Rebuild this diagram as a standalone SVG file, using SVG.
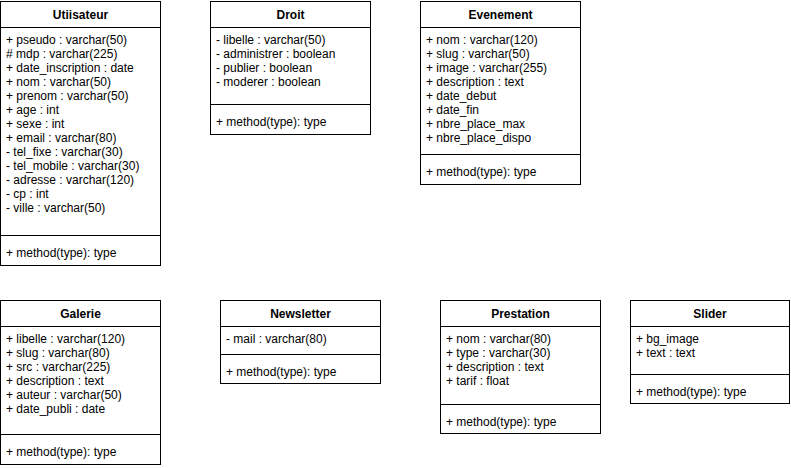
<svg xmlns="http://www.w3.org/2000/svg" width="791" height="468" viewBox="0 0 791 468">
<style>
.box{fill:#fff;stroke:#000;stroke-width:1}
.ln{stroke:#000;stroke-width:1}
text{font-family:"Liberation Sans",Arial,sans-serif;font-size:12px;fill:#000}
.t{font-weight:bold;text-anchor:middle}
</style>
<rect width="791" height="468" fill="#fff"/>
<g id="connectors"></g>
<g id="utiisateur">
<rect class="box" x="0.5" y="1.5" width="160" height="264"/>
<line class="ln" x1="0.5" y1="27.5" x2="160.5" y2="27.5"/>
<line class="ln" x1="0.5" y1="235.5" x2="160.5" y2="235.5"/>
<text class="t" x="80.5" y="18.5">Utiisateur</text>
<text x="6" y="44">+ pseudo : varchar(50)</text>
<text x="6" y="58"># mdp : varchar(225)</text>
<text x="6" y="72">+ date_inscription : date</text>
<text x="6" y="86">+ nom : varchar(50)</text>
<text x="6" y="100">+ prenom : varchar(50)</text>
<text x="6" y="114">+ age : int</text>
<text x="6" y="128">+ sexe : int</text>
<text x="6" y="142">+ email : varchar(80)</text>
<text x="6" y="156">- tel_fixe : varchar(30)</text>
<text x="6" y="170">- tel_mobile : varchar(30)</text>
<text x="6" y="184">- adresse : varchar(120)</text>
<text x="6" y="198">- cp : int</text>
<text x="6" y="212">- ville : varchar(50)</text>
<text x="6" y="257">+ method(type): type</text>
</g>
<g id="droit">
<rect class="box" x="210.5" y="1.5" width="160" height="133"/>
<line class="ln" x1="210.5" y1="27.5" x2="370.5" y2="27.5"/>
<line class="ln" x1="210.5" y1="104.5" x2="370.5" y2="104.5"/>
<text class="t" x="290.5" y="18.5">Droit</text>
<text x="216" y="44">- libelle : varchar(50)</text>
<text x="216" y="58">- administrer : boolean</text>
<text x="216" y="72">- publier : boolean</text>
<text x="216" y="86">- moderer : boolean</text>
<text x="216" y="126">+ method(type): type</text>
</g>
<g id="evenement">
<rect class="box" x="420.5" y="1.5" width="160" height="183"/>
<line class="ln" x1="420.5" y1="27.5" x2="580.5" y2="27.5"/>
<line class="ln" x1="420.5" y1="154.5" x2="580.5" y2="154.5"/>
<text class="t" x="500.5" y="18.5">Evenement</text>
<text x="426" y="44">+ nom : varchar(120)</text>
<text x="426" y="58">+ slug : varchar(50)</text>
<text x="426" y="72">+ image : varchar(255)</text>
<text x="426" y="86">+ description : text</text>
<text x="426" y="100">+ date_debut</text>
<text x="426" y="114">+ date_fin</text>
<text x="426" y="128">+ nbre_place_max</text>
<text x="426" y="142">+ nbre_place_dispo</text>
<text x="426" y="176">+ method(type): type</text>
</g>
<g id="galerie">
<rect class="box" x="0.5" y="300.5" width="160" height="164"/>
<line class="ln" x1="0.5" y1="326.5" x2="160.5" y2="326.5"/>
<line class="ln" x1="0.5" y1="434.5" x2="160.5" y2="434.5"/>
<text class="t" x="80.5" y="317.5">Galerie</text>
<text x="6" y="343">+ libelle : varchar(120)</text>
<text x="6" y="357">+ slug : varchar(80)</text>
<text x="6" y="371">+ src : varchar(225)</text>
<text x="6" y="385">+ description : text</text>
<text x="6" y="399">+ auteur : varchar(50)</text>
<text x="6" y="413">+ date_publi : date</text>
<text x="6" y="456">+ method(type): type</text>
</g>
<g id="newsletter">
<rect class="box" x="220.5" y="300.5" width="160" height="83"/>
<line class="ln" x1="220.5" y1="326.5" x2="380.5" y2="326.5"/>
<line class="ln" x1="220.5" y1="354.5" x2="380.5" y2="354.5"/>
<text class="t" x="300.5" y="317.5">Newsletter</text>
<text x="226" y="343">- mail : varchar(80)</text>
<text x="226" y="376">+ method(type): type</text>
</g>
<g id="prestation">
<rect class="box" x="440.5" y="300.5" width="160" height="133"/>
<line class="ln" x1="440.5" y1="326.5" x2="600.5" y2="326.5"/>
<line class="ln" x1="440.5" y1="404.5" x2="600.5" y2="404.5"/>
<text class="t" x="520.5" y="317.5">Prestation</text>
<text x="446" y="343">+ nom : varchar(80)</text>
<text x="446" y="357">+ type : varchar(30)</text>
<text x="446" y="371">+ description : text</text>
<text x="446" y="385">+ tarif : float</text>
<text x="446" y="426">+ method(type): type</text>
</g>
<g id="slider">
<rect class="box" x="630.5" y="300.5" width="159" height="103"/>
<line class="ln" x1="630.5" y1="326.5" x2="789.5" y2="326.5"/>
<line class="ln" x1="630.5" y1="374.5" x2="789.5" y2="374.5"/>
<text class="t" x="710" y="317.5">Slider</text>
<text x="636" y="343">+ bg_image</text>
<text x="636" y="357">+ text : text</text>
<text x="636" y="396">+ method(type): type</text>
</g>
</svg>
